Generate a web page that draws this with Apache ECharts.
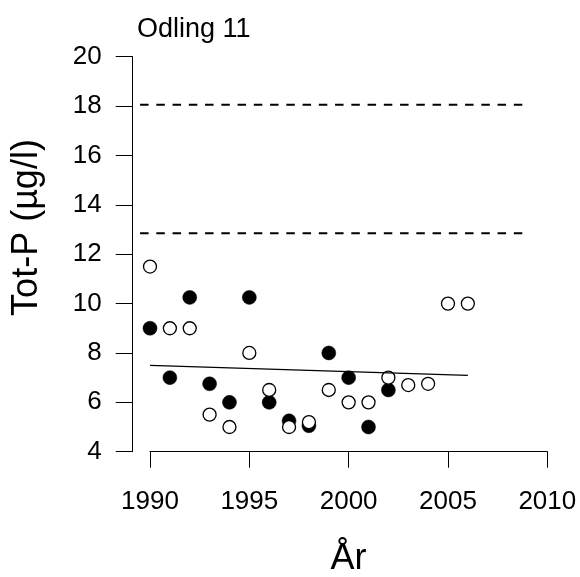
<!DOCTYPE html>
<html>
<head>
<meta charset="utf-8">
<script src="https://cdn.jsdelivr.net/npm/echarts@6/dist/echarts.min.js"></script>
<style>html,body{margin:0;padding:0;background:#fff}#c{width:580px;height:577px}</style>
</head>
<body>
<div id="c"></div>
<script>
var titleText = "Odling 11";
var xName = "År";
var yName = "Tot-P (µg/l)";
var xTicks = [1990, 1995, 2000, 2005, 2010];
var yTicks = [4, 6, 8, 10, 12, 14, 16, 18, 20];

var filledYears = [1990, 1991, 1992, 1993, 1994, 1995, 1996, 1997, 1998, 1999, 2000, 2001, 2002];
var filledValues = [9, 7, 10.25, 6.75, 6, 10.25, 6, 5.25, 5.05, 8, 7, 5, 6.5];

var openYears = [1990, 1991, 1992, 1993, 1994, 1995, 1996, 1997, 1998, 1999, 2000, 2001, 2002, 2003, 2004, 2005, 2006];
var openValues = [11.5, 9, 9, 5.5, 5, 8, 6.5, 5, 5.2, 6.5, 6, 6, 7, 6.7, 6.75, 10, 10];

var trendYears = [1990, 2006];
var trendValues = [7.5, 7.09];

var refYears = [1989.5, 2008.8];
var refUpper = [18.05, 18.05];
var refLower = [12.85, 12.85];

function pairs(xs, ys) { return xs.map(function (x, i) { return [x, ys[i]]; }); }

var FONT = "Liberation Sans, Arial, Helvetica, sans-serif";
// second (hidden) grid spans from the y-axis line; its x range extends 17.3px / px-per-year to the left
var pxPerYear = (580 - 32.7 - 150) / 20;
var leftMin = 1990 - 17.3 / pxPerYear;

var chart = echarts.init(document.getElementById('c'), null, { renderer: 'canvas' });
chart.setOption({
  animation: false,
  backgroundColor: '#ffffff',
  grid: [
    { left: 150, right: 32.7, top: 56.7, bottom: 125.3, containLabel: false },
    { left: 132.7, right: 32.7, top: 56.7, bottom: 125.3, containLabel: false }
  ],
  xAxis: [{
    gridIndex: 0, type: 'value', min: xTicks[0], max: xTicks[xTicks.length - 1], interval: 5,
    axisLine: { show: true, lineStyle: { color: '#000', width: 1 } },
    axisTick: { show: true, inside: false, length: 16, lineStyle: { color: '#000', width: 1 } },
    axisLabel: { show: true, margin: 37, color: '#000', fontSize: 26, fontFamily: FONT, formatter: function (v) { return String(v); } },
    splitLine: { show: false }
  }, {
    gridIndex: 1, type: 'value', min: leftMin, max: xTicks[xTicks.length - 1], show: false,
    splitLine: { show: false }
  }],
  yAxis: [{
    gridIndex: 0, type: 'value', min: yTicks[0], max: yTicks[yTicks.length - 1], interval: 2, offset: 17.3,
    axisLine: { show: true, onZero: false, lineStyle: { color: '#000', width: 1 } },
    axisTick: { show: true, inside: false, length: 17, lineStyle: { color: '#000', width: 1 } },
    axisLabel: { show: true, margin: 31, color: '#000', fontSize: 26, fontFamily: FONT },
    splitLine: { show: false }
  }, {
    gridIndex: 1, type: 'value', min: yTicks[0], max: yTicks[yTicks.length - 1], show: false,
    splitLine: { show: false }
  }],
  graphic: [
    { type: 'text', left: 137, top: 16, style: { text: titleText, font: '27px ' + FONT, fill: '#000' } },
    { type: 'text', x: 348.6, y: 559, style: { text: xName, font: '36px ' + FONT, fill: '#000', align: 'center', verticalAlign: 'middle' } },
    { type: 'text', x: 27, y: 227.5, rotation: Math.PI / 2, style: { text: yName, font: '36px ' + FONT, fill: '#000', align: 'center', verticalAlign: 'middle' } }
  ],
  series: [
    { type: 'line', xAxisIndex: 1, yAxisIndex: 1, data: pairs(refYears, refUpper), symbol: 'none', silent: true,
      lineStyle: { color: '#000', width: 2, type: [8.5, 7.75] } },
    { type: 'line', xAxisIndex: 1, yAxisIndex: 1, data: pairs(refYears, refLower), symbol: 'none', silent: true,
      lineStyle: { color: '#000', width: 2, type: [8.5, 7.75] } },
    { type: 'line', data: pairs(trendYears, trendValues), symbol: 'none', clip: false, silent: true,
      lineStyle: { color: '#000', width: 1.2 } },
    { type: 'scatter', data: pairs(filledYears, filledValues), symbol: 'circle', symbolSize: 14, clip: false,
      itemStyle: { color: '#000', opacity: 1, borderColor: '#000', borderWidth: 0.5 } },
    { type: 'scatter', data: pairs(openYears, openValues), symbol: 'circle', symbolSize: 13, clip: false,
      itemStyle: { color: '#fff', opacity: 1, borderColor: '#000', borderWidth: 1.3 } }
  ]
});
</script>
</body>
</html>
